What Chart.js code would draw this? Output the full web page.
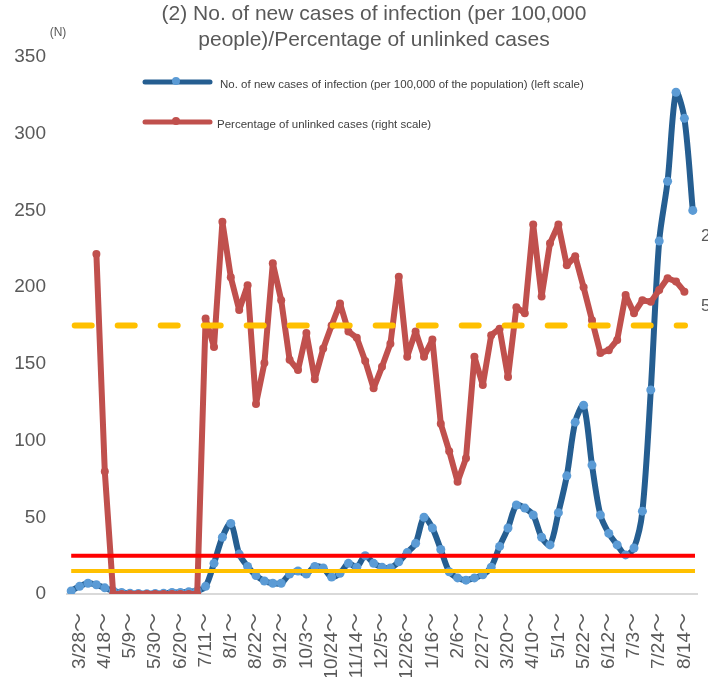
<!DOCTYPE html>
<html>
<head>
<meta charset="utf-8">
<script src="https://cdn.jsdelivr.net/npm/chart.js@4"></script>
<style>
  html, body { margin: 0; padding: 0; background: #fff; }
  #wrap { width: 708px; height: 677px; }
</style>
</head>
<body>
<div id="wrap"><canvas id="chart" width="708" height="677"></canvas></div>
<script>
// weekly periods (week starting)
const weeks = [
  '3/21', '3/28', '4/4', '4/11', '4/18', '4/25', '5/2', '5/9', '5/16', '5/23',
  '5/30', '6/6', '6/13', '6/20', '6/27', '7/4', '7/11', '7/18', '7/25', '8/1',
  '8/8', '8/15', '8/22', '8/29', '9/5', '9/12', '9/19', '9/26', '10/3', '10/10',
  '10/17', '10/24', '10/31', '11/7', '11/14', '11/21', '11/28', '12/5', '12/12', '12/19',
  '12/26', '1/2', '1/9', '1/16', '1/23', '1/30', '2/6', '2/13', '2/20', '2/27',
  '3/6', '3/13', '3/20', '3/27', '4/3', '4/10', '4/17', '4/24', '5/1', '5/8',
  '5/15', '5/22', '5/29', '6/5', '6/12', '6/19', '6/26', '7/3', '7/10', '7/17',
  '7/24', '7/31', '8/7', '8/14', '8/21'
];

// weeks that get a label on the x axis
const tickLabels = [
  '3/28', '4/18', '5/9', '5/30', '6/20', '7/11', '8/1', '8/22', '9/12', '10/3',
  '10/24', '11/14', '12/5', '12/26', '1/16', '2/6', '2/27', '3/20', '4/10', '5/1',
  '5/22', '6/12', '7/3', '7/24', '8/14'
];

// new cases per 100,000 people (left scale)
const newCases = [
  2, 5, 7, 6, 4, 2, 1, 0.5, 0.3, 0.2,
  0.3, 0.5, 1, 1, 1.5, 2, 5, 20, 37, 46,
  26, 18, 12, 8.5, 7, 7, 13, 15, 13, 18,
  17, 11, 13.5, 20, 17.5, 25, 20, 17.5, 17, 21,
  27, 33, 50, 43, 29, 14.5, 10.5, 9, 10.5, 12.5,
  17.5, 31, 43, 58, 56, 51.5, 37, 32, 53, 77,
  112, 123, 84, 51.5, 39.5, 32, 25.5, 30, 54, 133,
  230, 269, 327, 310, 250
];

// percentage of unlinked cases (right scale, %)
const unlinkedPct = [
  null, null, null, 63.3, 22.8, 0, 0, 0, 0, 0,
  0, 0, 0, 0, 0, 0, 51.3, 46, 69.3, 59,
  52.9, 57.5, 35.4, 43, 61.6, 54.7, 43.6, 41.7, 48.6, 40,
  45.7, 50, 54.1, 48.9, 47.7, 43.4, 38.3, 42.3, 46.6, 59.1,
  44.2, 48.9, 44.2, 47.4, 31.7, 26.6, 20.9, 25.3, 44.2, 38.9,
  48.2, 49.4, 40.4, 53.4, 52.3, 68.8, 55.4, 65.3, 68.8, 61.2,
  62.9, 57.1, 51, 44.9, 45.4, 47.3, 55.7, 52.3, 54.7, 54.4,
  56.6, 58.8, 58.2, 56.3, null
];

// threshold lines
const stage3Cases = 15;
const stage4Cases = 25;
const unlinkedLimit = 50;

const FONT = '"Liberation Sans", Arial, "Noto Sans CJK JP", sans-serif';
const TEXT = '#595959';

const overlay = {
  id: 'overlay',
  afterDatasetsDraw(chart) {
    const { ctx, chartArea, scales } = chart;
    const x0 = scales.x.getPixelForValue(0);
    ctx.save();
    ctx.lineCap = 'butt';
    // solid thresholds (cases per 100,000)
    [[stage4Cases, '#FF0000'], [stage3Cases, '#FFC000']].forEach(([v, c]) => {
      const y = scales.y.getPixelForValue(v);
      ctx.strokeStyle = c;
      ctx.lineWidth = 4;
      ctx.beginPath();
      ctx.moveTo(x0, y);
      ctx.lineTo(chartArea.right - 2, y);
      ctx.stroke();
    });
    // dashed threshold (unlinked %)
    const yd = scales.y1.getPixelForValue(unlinkedLimit);
    ctx.strokeStyle = '#FFC000';
    ctx.lineWidth = 6;
    ctx.lineCap = 'round';
    ctx.setLineDash([17, 26]);
    ctx.beginPath();
    ctx.moveTo(x0 + 3.5, yd);
    ctx.lineTo(chartArea.right - 12, yd);
    ctx.stroke();
    ctx.restore();
  },
  afterDraw(chart) {
    const { ctx } = chart;
    ctx.save();
    ctx.fillStyle = TEXT;
    ctx.textBaseline = 'middle';
    ctx.textAlign = 'center';
    ctx.font = '21px ' + FONT;
    ctx.fillText('(2) No. of new cases of infection (per 100,000', 374, 14);
    ctx.fillText('people)/Percentage of unlinked cases', 374, 40);

    ctx.font = '12px ' + FONT;
    ctx.fillText('(N)', 58, 33);

    // legend
    const items = [
      { y: 82, line: '#255E91', dot: '#5B9BD5', text: 'No. of new cases of infection (per 100,000 of the population) (left scale)', tx: 220 },
      { y: 122, line: '#C0504D', dot: '#C0504D', text: 'Percentage of unlinked cases (right scale)', tx: 217 }
    ];
    items.forEach(it => {
      ctx.strokeStyle = it.line;
      ctx.lineWidth = 5;
      ctx.lineCap = 'round';
      ctx.beginPath();
      ctx.moveTo(145, it.y);
      ctx.lineTo(210, it.y);
      ctx.stroke();
      ctx.fillStyle = it.dot;
      ctx.beginPath();
      ctx.arc(176, it.y - 1, 4, 0, Math.PI * 2);
      ctx.fill();
      ctx.fillStyle = '#404040';
      ctx.textAlign = 'left';
      ctx.font = '11.5px ' + FONT;
      ctx.fillText(it.text, it.tx, it.y + 3);
    });

    // annotations at the right edge
    ctx.fillStyle = TEXT;
    ctx.font = '17px ' + FONT;
    ctx.fillText('2', 701, 236);
    ctx.fillText('5', 701, 306);
    ctx.restore();
  }
};

new Chart(document.getElementById('chart'), {
  type: 'line',
  data: {
    labels: weeks,
    datasets: [
      {
        label: 'No. of new cases of infection (per 100,000 of the population) (left scale)',
        data: newCases,
        yAxisID: 'y',
        borderColor: '#255E91',
        borderWidth: 6,
        pointRadius: 4.5,
        pointBorderWidth: 0,
        pointBackgroundColor: '#5B9BD5',
        tension: 0.3,
        borderJoinStyle: 'round',
        borderCapStyle: 'round',
        order: 2
      },
      {
        label: 'Percentage of unlinked cases (right scale)',
        data: unlinkedPct,
        yAxisID: 'y1',
        borderColor: '#C0504D',
        borderWidth: 6,
        pointRadius: 4,
        pointBorderWidth: 0,
        pointBackgroundColor: '#C0504D',
        tension: 0,
        borderJoinStyle: 'round',
        borderCapStyle: 'round',
        spanGaps: false,
        order: 1
      }
    ]
  },
  options: {
    responsive: false,
    animation: false,
    devicePixelRatio: 1,
    layout: { autoPadding: false, padding: { top: 57, right: 11, left: 0, bottom: 0 } },
    plugins: {
      legend: { display: false },
      title: { display: false },
      tooltip: { enabled: false }
    },
    scales: {
      x: {
        offset: true,
        grid: { display: false, drawTicks: false },
        border: { display: true, color: '#D9D9D9', width: 2 },
        ticks: {
          autoSkip: false,
          minRotation: 90,
          maxRotation: 90,
          padding: 19,
          color: TEXT,
          font: { family: FONT, size: 19 },
          callback: function (value, index) {
            const w = weeks[index];
            return tickLabels.includes(w) ? w + '～' : '';
          }
        },
        afterFit(scale) {
          scale.height = 83;
          scale.paddingLeft = 0;
          scale.paddingRight = 0;
        }
      },
      y: {
        position: 'left',
        min: 0,
        max: 350,
        grid: { display: false, drawTicks: false },
        border: { display: false },
        ticks: {
          stepSize: 50,
          padding: 21,
          color: TEXT,
          font: { family: FONT, size: 19 }
        },
        afterFit(scale) { scale.width = 67; }
      },
      y1: {
        position: 'right',
        display: false,
        min: 0,
        max: 100
      }
    }
  },
  plugins: [overlay]
});
</script>
</body>
</html>
